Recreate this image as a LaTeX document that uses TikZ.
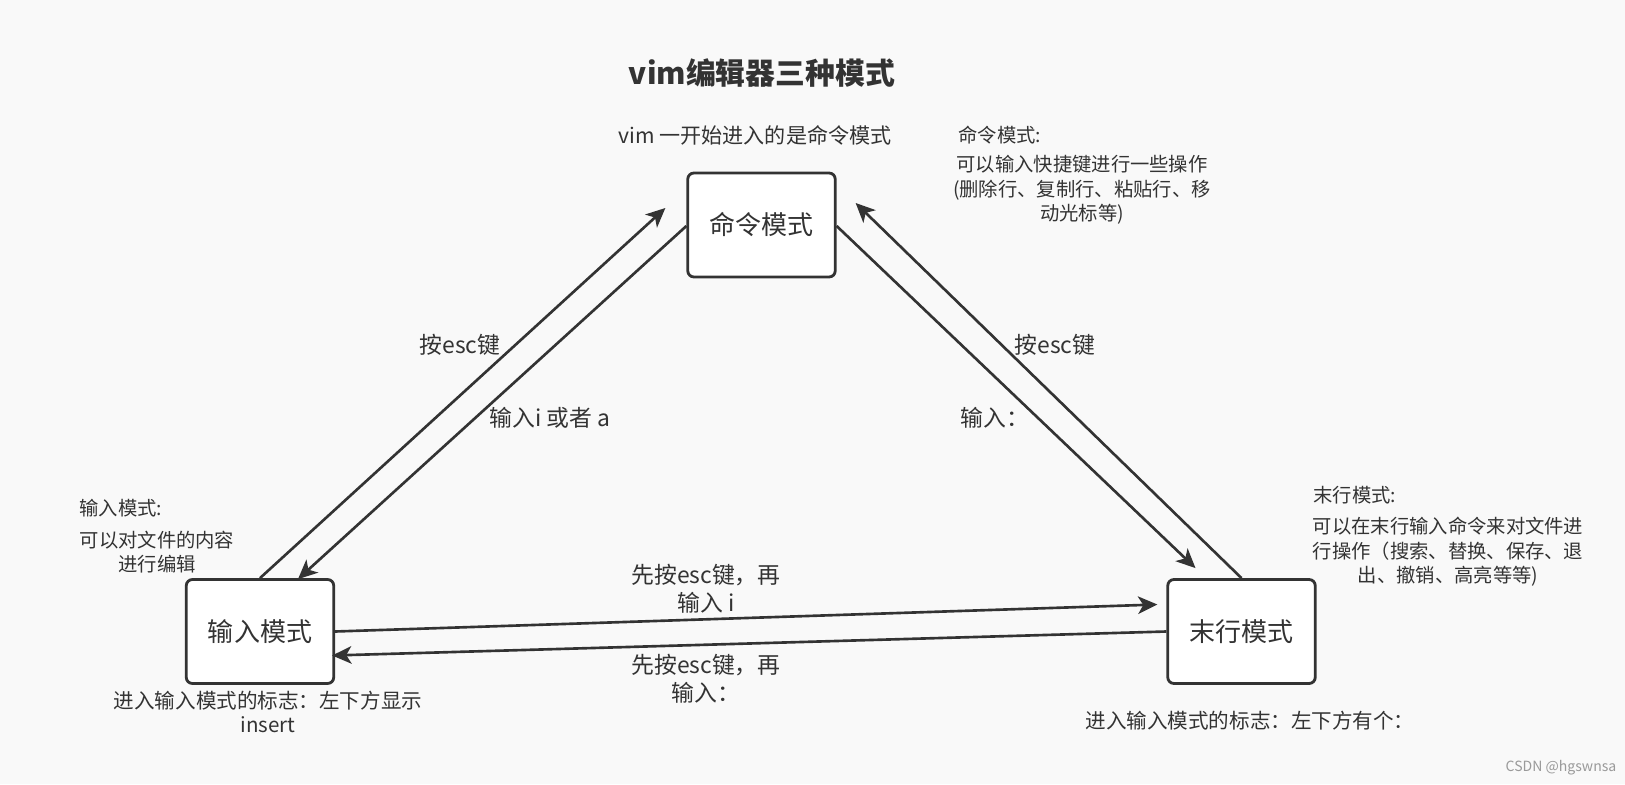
\documentclass[tikz,border=0pt]{standalone}
\usepackage{fontspec}
\setmainfont{Noto Sans CJK SC}
\usetikzlibrary{arrows.meta,calc}
\definecolor{ink}{HTML}{333333}
\definecolor{bg}{HTML}{F9F9F9}
\definecolor{foot}{HTML}{9A9A9A}
\tikzset{
  modebox/.style={draw=ink,line width=1.6pt,fill=white,rounded corners=3.5pt,
    minimum width=2.95cm,minimum height=2.08cm,text=ink,font=\fontsize{14.8}{17}\selectfont},
  arr/.style={draw=ink,line width=1.5pt,-{Stealth[length=11pt,width=10pt,inset=3pt]}},
  lbl/.style={text=ink,font=\fontsize{13}{16}\selectfont,align=center,inner sep=0pt},
  note/.style={text=ink,font=\fontsize{11}{14}\selectfont,align=center,inner sep=0pt},
  flag/.style={text=ink,font=\fontsize{11.7}{13.7}\selectfont,align=center,inner sep=0pt}
}
\begin{document}
\begin{tikzpicture}[x=0.02cm,y=-0.02cm]
\fill[bg] (0,0) rectangle (1625,784);
\useasboundingbox (0,0) rectangle (1625,784);
% title
\node[text=ink,font=\fontsize{17}{20}\selectfont\bfseries,inner sep=0pt] (title) at (762,73) {vim编辑器三种模式};
\node[text=ink,font=\fontsize{12}{14}\selectfont,inner sep=0pt] (sub) at (755,135) {vim 一开始进入的是命令模式};
% boxes
\node[modebox] (cmd) at (761.5,225) {命令模式};
\node[modebox] (ins) at (260,631.5) {输入模式};
\node[modebox] (last) at (1241.5,631.5) {末行模式};
% connectors
\draw[arr] (ins.north) -- ($(cmd.west)+(-21,-17)$);
\draw[arr] ($(cmd.west)+(0,1)$) -- ($(ins.north)+(38,1)$);
\draw[arr] ($(cmd.east)+(0,1)$) -- ($(last.north)+(-46,-10)$);
\draw[arr] (last.north) -- ($(cmd.east)+(19,-22)$);
\draw[arr] (ins.east) -- ($(last.west)+(-9,-27)$);
\draw[arr] (last.west) -- ($(ins.east)+(-3,24)$);
% connector labels
\node[lbl] (l1) at (460,345) {按esc键};
\node[lbl] (l2) at (550,418) {输入i 或者 a};
\node[lbl] (l3) at (1055,345) {按esc键};
\node[lbl] (l4) at (995,418) {输入：};
\node[lbl] (l5) at (706,589) {先按esc键，再\\输入 i};
\node[lbl] (l6) at (706,679) {先按esc键，再\\输入：};
% notes
\node[note,anchor=west] (n1h) at (958,135) {命令模式:};
\node[note] (n1) at (1082,190) {可以输入快捷键进行一些操作\\(删除行、复制行、粘贴行、移\\动光标等)};
\node[note,anchor=west] (n2h) at (79,508) {输入模式:};
\node[note] (n2) at (157,552) {可以对文件的内容\\进行编辑};
\node[note,anchor=west] (n3h) at (1313,495) {末行模式:};
\node[note] (n3) at (1448,552) {可以在末行输入命令来对文件进\\行操作（搜索、替换、保存、退\\出、撤销、高亮等等)};
\node[flag] (f1) at (268,712) {进入输入模式的标志：左下方显示\\insert};
\node[flag] (f2) at (1250,721) {进入输入模式的标志：左下方有个：};
\node[text=foot,font=\fontsize{8}{10}\selectfont,inner sep=0pt] (csdn) at (1561,768) {CSDN @hgswnsa};
\end{tikzpicture}
\end{document}
